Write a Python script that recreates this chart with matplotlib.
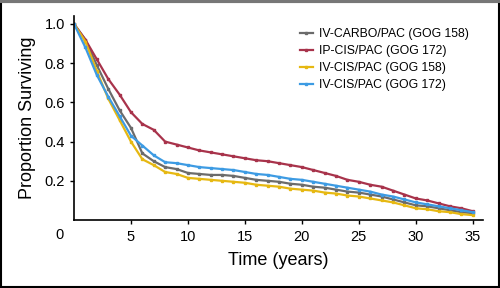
import numpy as np
import matplotlib.pyplot as plt
from matplotlib.patches import Rectangle

plt.rcParams['font.family'] = ['Liberation Sans', 'DejaVu Sans']

# time axis (years)
years = np.arange(0, 36)

# survival proportions
carbo_158 = [1.0, 0.92, 0.79, 0.67, 0.56, 0.47, 0.34, 0.30, 0.27, 0.26, 0.24, 0.235,
             0.23, 0.23, 0.225, 0.215, 0.205, 0.2, 0.195, 0.185, 0.18, 0.17, 0.165,
             0.155, 0.145, 0.14, 0.13, 0.12, 0.105, 0.09, 0.075, 0.07, 0.06, 0.05,
             0.04, 0.035]
ip_172 = [1.0, 0.92, 0.82, 0.72, 0.64, 0.55, 0.49, 0.46, 0.40, 0.385, 0.37, 0.355,
          0.345, 0.335, 0.325, 0.315, 0.305, 0.30, 0.29, 0.28, 0.27, 0.255, 0.24,
          0.225, 0.205, 0.195, 0.18, 0.17, 0.15, 0.13, 0.11, 0.10, 0.085, 0.07,
          0.06, 0.045]
iv_158 = [1.0, 0.91, 0.76, 0.62, 0.51, 0.40, 0.31, 0.28, 0.245, 0.235, 0.215, 0.21,
          0.205, 0.20, 0.195, 0.19, 0.18, 0.175, 0.17, 0.16, 0.155, 0.15, 0.14,
          0.135, 0.125, 0.12, 0.11, 0.10, 0.09, 0.075, 0.06, 0.055, 0.045, 0.04,
          0.03, 0.025]
iv_172 = [1.0, 0.88, 0.74, 0.63, 0.53, 0.43, 0.38, 0.33, 0.295, 0.29, 0.28, 0.27,
          0.265, 0.26, 0.255, 0.245, 0.235, 0.23, 0.22, 0.21, 0.205, 0.195, 0.185,
          0.175, 0.165, 0.155, 0.145, 0.13, 0.12, 0.105, 0.09, 0.08, 0.07, 0.06,
          0.05, 0.04]

labels = ['IV-CARBO/PAC (GOG 158)', 'IP-CIS/PAC (GOG 172)',
          'IV-CIS/PAC (GOG 158)', 'IV-CIS/PAC (GOG 172)']
colors = ['#6b6b6b', '#a8334b', '#e6b812', '#3d9be3']

fig = plt.figure(figsize=(5, 2.88), dpi=100)
ax = fig.add_axes([0.148, 0.236, 0.818, 0.708])

for vals, lab, c in zip([carbo_158, ip_172, iv_158, iv_172], labels, colors):
    ax.plot(years, vals, color=c, lw=1.6, marker='s', ms=1.8, label=lab)

ax.set_xlim(0, 35.9)
ax.set_ylim(0, 1.04)
ax.set_xticks([5, 10, 15, 20, 25, 30, 35])
ax.set_yticks([0.2, 0.4, 0.6, 0.8, 1.0])
ax.set_yticklabels(['0.2', '0.4', '0.6', '0.8', '1.0'])
ax.tick_params(labelsize=10.5, length=3, width=1)
ax.tick_params(axis='x', pad=4)
ax.spines['top'].set_visible(False)
ax.spines['right'].set_visible(False)
ax.spines['left'].set_linewidth(1.2)
ax.spines['bottom'].set_linewidth(1.2)

# origin label sits apart from the axes
fig.text(60 / 500, 1 - 235 / 288, '0', fontsize=10.5, ha='center', va='center')

ax.set_xlabel('Time (years)', fontsize=13, labelpad=6)
ax.set_ylabel('Proportion Surviving', fontsize=13, labelpad=6)

ax.legend(loc='upper left', bbox_to_anchor=(0.54, 0.965), frameon=False,
          fontsize=8.8, handlelength=1.1, handletextpad=0.45, labelspacing=0.4,
          borderaxespad=0)

# frame around the whole figure
fig.patches.append(Rectangle((0.002, 0.003), 0.995, 0.99, transform=fig.transFigure,
                             fill=False, edgecolor='black', lw=1.5))
fig.patches.append(Rectangle((0.0, 0.99), 1.0, 0.01, transform=fig.transFigure,
                             color='#777777', lw=0))

fig.savefig('out.png', dpi=100)
